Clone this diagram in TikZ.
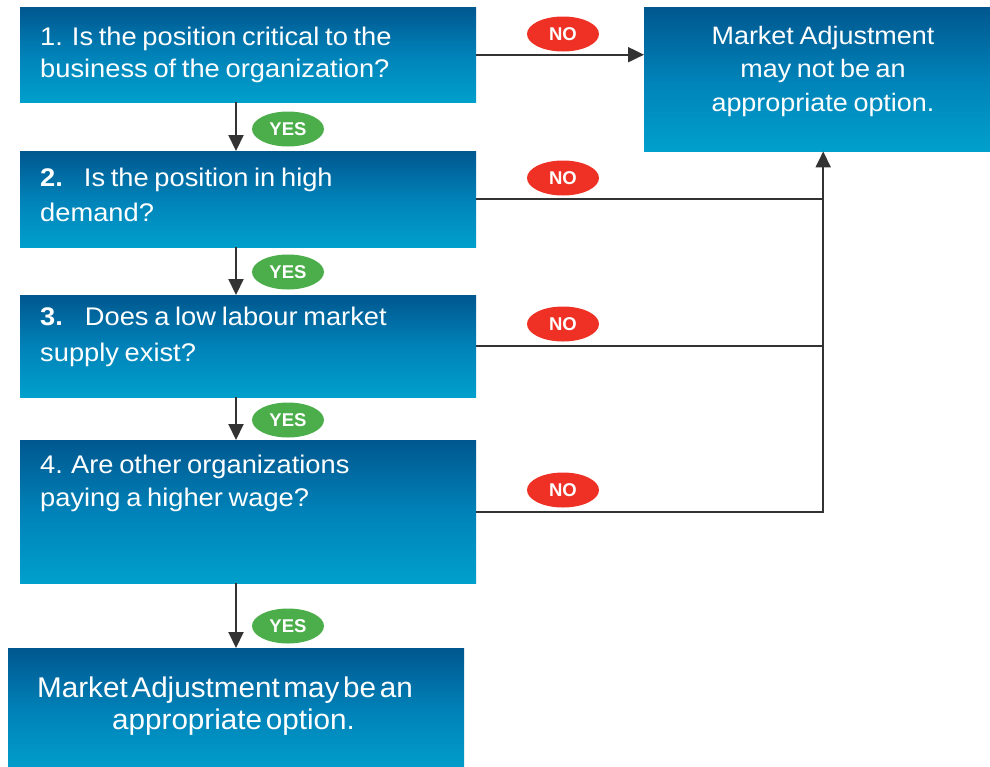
\documentclass[tikz,border=0pt]{standalone}
\usepackage{fontspec}
\setmainfont{Liberation Sans}[FakeStretch=1.07, WordSpace=0.75]
\newfontfamily\tightfont{Liberation Sans}[FakeStretch=1.04, WordSpace=0.45]
\newfontfamily\badgefont{Liberation Sans Bold}
\usetikzlibrary{arrows.meta,shapes.geometric}

\definecolor{boxtop}{HTML}{00578F}
\definecolor{boxmid}{HTML}{0082B8}
\definecolor{boxbot}{HTML}{00A0CC}
\definecolor{linegray}{HTML}{333333}
\definecolor{nored}{HTML}{EE3124}
\definecolor{yesgreen}{HTML}{4CAE4A}

\tikzset{
  qbox/.style={rectangle, inner sep=0pt, anchor=north west,
    top color=boxtop, bottom color=boxbot, middle color=boxmid, draw=none},
  qtext/.style={inner sep=0pt, text=white, align=left, anchor=north west},
  ctext/.style={inner sep=0pt, text=white, align=center, anchor=north},
  conn/.style={draw=linegray, line width=2pt},
  tip/.style={-{Triangle[length=16pt,width=15pt]}},
  badge/.style={ellipse, inner sep=0pt, minimum width=72pt, minimum height=35pt,
    text=white, font=\badgefont\fontsize{18.5}{18.5}\selectfont},
  nobadge/.style={badge, fill=nored},
  yesbadge/.style={badge, fill=yesgreen},
}
\newcommand{\qfont}[1]{\fontsize{25.5}{#1}\selectfont}
\newcommand{\firstline}[1]{\rule{0pt}{#1}}

\begin{document}
\begin{tikzpicture}[x=1pt, y=-1pt]
  \useasboundingbox (0,0) rectangle (990,766);

  % question boxes
  \node[qbox, minimum width=456pt, minimum height=95pt]  (b1) at (20,7)   {};
  \node[qbox, minimum width=456pt, minimum height=96pt]  (b2) at (20,151) {};
  \node[qbox, minimum width=456pt, minimum height=102pt] (b3) at (20,295) {};
  \node[qbox, minimum width=456pt, minimum height=143pt] (b4) at (20,440) {};
  % outcome boxes
  \node[qbox, minimum width=358pt, minimum height=144pt] (rb) at (644,7)  {};
  \node[qbox, minimum width=456pt, minimum height=125pt] (yb) at (8,648)  {};

  % texts
  \node[qtext, font=\qfont{32.5}] (t1) at (40,25)
    {\firstline{20pt}1.\hspace{9pt}Is the position critical to the\\business of the organization?};
  \node[qtext, font=\qfont{35.5}] (t2) at (40,166)
    {\firstline{20pt}\textbf{2.}\hspace{21pt}Is the position in high\\demand?};
  \node[qtext, font=\qfont{36.5}] (t3) at (40,305)
    {\firstline{20pt}\textbf{3.}\hspace{22pt}Does a low labour market\\supply exist?};
  \node[qtext, font=\qfont{33}] (t4) at (40,453)
    {\firstline{20pt}4. Are other organizations\\paying a higher wage?};
  \node[ctext, font=\fontsize{25.2}{33.5}\selectfont] (rt) at (823,24)
    {\firstline{20pt}Market Adjustment\\may not be an\\appropriate option.};
  \node[qtext, font=\tightfont\fontsize{28.5}{32}\selectfont] (yt) at (37,674)
    {\firstline{23pt}Market Adjustment may be an\\\hspace*{75pt}appropriate option.};

  % YES path
  \draw[conn, tip] (b1.south -| 236,0) -- (b2.north -| 236,0);
  \draw[conn, tip] (b2.south -| 236,0) -- (b3.north -| 236,0);
  \draw[conn, tip] (b3.south -| 236,0) -- (b4.north -| 236,0);
  \draw[conn, tip] (b4.south -| 236,0) -- (yb.north -| 236,0);

  % NO paths
  \coordinate (j) at (rb.south |- b4.east);
  \draw[conn, tip] (b1.east) -- (b1.east -| rb.west);
  \draw[conn] (b2.east) -- (b2.east -| j);
  \draw[conn] (b3.east) -- (b3.east -| j);
  \draw[conn, tip] (b4.east) -- (j) -- (rb.south);

  % badges
  \node[yesbadge] (y1) at (288,129) {YES};
  \node[yesbadge] (y2) at (288,272) {YES};
  \node[yesbadge] (y3) at (288,420) {YES};
  \node[yesbadge] (y4) at (288,626) {YES};
  \node[nobadge] (n1) at (563,34)  {NO};
  \node[nobadge] (n2) at (563,178) {NO};
  \node[nobadge] (n3) at (563,324) {NO};
  \node[nobadge] (n4) at (563,490) {NO};
\end{tikzpicture}
\end{document}
